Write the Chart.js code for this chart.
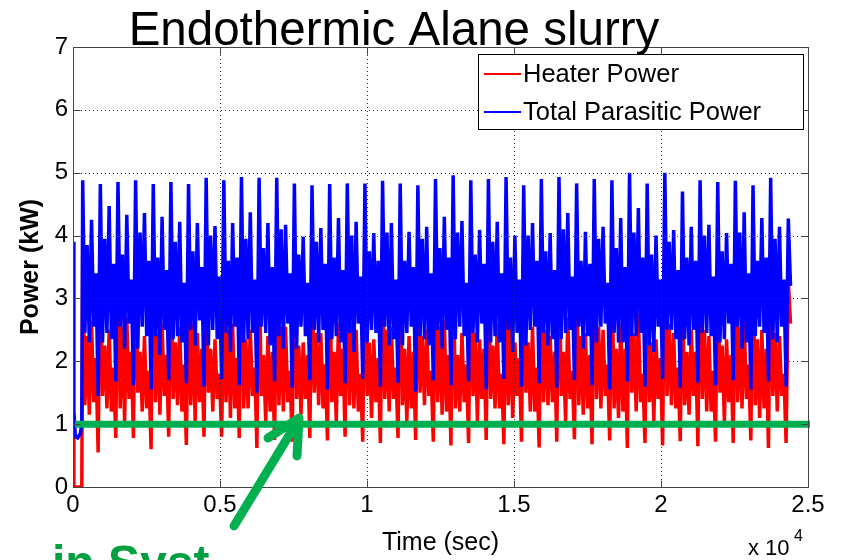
<!DOCTYPE html>
<html>
<head>
<meta charset="utf-8">
<script src="https://cdn.jsdelivr.net/npm/chart.js@4.4.0/dist/chart.umd.min.js"></script>
<style>
  html, body { margin: 0; padding: 0; background: #fff; }
</style>
</head>
<body>
<canvas id="myChart" width="842" height="560"></canvas>
<script>
// axis ticks (x in units of 10^4 sec)
const xTicks = [0, 0.5, 1, 1.5, 2, 2.5];
const yTicks = [0, 1, 2, 3, 4, 5, 6, 7];

// start-up transient, irregular sample times (sec)
const startTime = [0, 30, 80, 160, 250, 300];
const startHeater = [0.85, 0, 0, 0, 0, 0];
const startTotal = [3.9, 1.2, 0.8, 0.78, 0.85, 1.0];

// cycling part, one sample every 75 s from t = 330 s (8 samples per ~600 s cycle)
const sampleStart = 330;
const sampleStep = 75;

// Heater Power (kW)
const heaterPower = [
  3.98, 1.30, 2.40, 1.15, 2.65, 1.35, 2.05, 0.55,
  3.90, 1.45, 2.25, 1.25, 2.50, 1.20, 1.90, 0.78,
  3.92, 1.25, 2.55, 1.05, 2.70, 1.40, 2.15, 0.78,
  3.85, 1.50, 2.15, 1.20, 2.40, 1.25, 1.85, 0.60,
  3.90, 1.35, 2.45, 1.15, 2.60, 1.45, 2.10, 0.80,
  3.60, 1.40, 2.30, 1.30, 2.55, 1.20, 1.95, 0.67,
  3.25, 1.30, 2.60, 1.05, 2.45, 1.35, 2.20, 0.80,
  3.55, 1.50, 2.20, 1.20, 2.35, 1.40, 1.80, 0.80,
  2.97, 1.35, 2.50, 1.10, 2.60, 1.25, 2.05, 0.78,
  3.98, 1.25, 2.35, 1.25, 2.50, 1.45, 1.90, 0.62,
  3.70, 1.45, 2.10, 1.05, 2.40, 1.20, 2.15, 0.75,
  3.40, 1.30, 2.55, 1.20, 2.55, 1.35, 1.85, 0.72,
  3.80, 1.40, 2.25, 1.15, 2.30, 1.40, 2.10, 0.78,
  3.50, 1.50, 2.45, 1.30, 2.45, 1.25, 1.95, 0.74,
  3.65, 1.35, 2.15, 1.05, 2.60, 1.45, 2.20, 0.80,
  3.75, 1.30, 2.60, 1.25, 2.50, 1.20, 1.80, 0.72,
  3.90, 1.45, 2.30, 1.10, 2.35, 1.35, 2.05, 0.70,
  3.45, 1.40, 2.50, 1.20, 2.55, 1.40, 1.90, 0.78,
  3.70, 1.30, 2.20, 1.05, 2.40, 1.25, 2.15, 0.75,
  3.85, 1.50, 2.40, 1.30, 2.50, 1.45, 1.85, 0.72,
  3.60, 1.35, 2.55, 1.15, 2.65, 1.20, 2.10, 0.66,
  3.95, 1.25, 2.10, 1.20, 2.45, 1.35, 1.95, 0.70,
  3.55, 1.45, 2.45, 1.05, 2.35, 1.40, 2.20, 0.75,
  3.80, 1.40, 2.25, 1.25, 2.60, 1.25, 1.80, 0.68,
  3.40, 1.30, 2.60, 1.10, 2.30, 1.45, 2.05, 0.72,
  3.75, 1.50, 2.30, 1.20, 2.55, 1.20, 1.90, 0.63,
  3.65, 1.35, 2.50, 1.30, 2.40, 1.35, 2.15, 0.72,
  3.90, 1.45, 2.15, 1.05, 2.70, 1.40, 1.85, 0.76,
  3.50, 1.30, 2.40, 1.15, 2.45, 1.25, 2.10, 0.68,
  3.85, 1.40, 2.55, 1.25, 2.50, 1.45, 1.95, 0.74,
  3.70, 1.25, 2.20, 1.10, 2.60, 1.20, 2.20, 0.62,
  3.95, 1.50, 2.45, 1.20, 2.75, 1.35, 1.80, 0.70,
  3.35, 1.35, 2.30, 1.05, 2.35, 1.40, 2.05, 0.66,
  4.00, 1.45, 2.60, 1.30, 2.45, 1.25, 1.90, 0.73,
  3.30, 1.30, 2.15, 1.15, 2.50, 1.45, 2.15, 0.65,
  3.80, 1.40, 2.50, 1.20, 2.40, 1.20, 1.85, 0.72,
  3.60, 1.50, 2.25, 1.05, 2.35, 1.35, 2.10, 0.70,
  3.75, 1.35, 2.55, 1.25, 2.65, 1.40, 1.95, 0.74,
  3.55, 1.30, 2.35, 1.10, 2.50, 1.25, 2.20, 0.62,
  3.85, 1.45, 2.45, 1.20, 2.40, 1.45, 1.80, 0.70,
  3.30, 2.60
];

// Total Parasitic Power (kW)
const totalPower = [
  4.88, 2.45, 3.85, 2.30, 4.25, 2.55, 3.40, 1.45,
  4.82, 2.30, 3.95, 2.45, 4.47, 2.35, 3.55, 1.68,
  4.85, 2.55, 3.70, 2.20, 4.33, 2.60, 3.30, 1.62,
  4.88, 2.20, 4.05, 2.55, 4.36, 2.40, 3.60, 1.55,
  4.82, 2.40, 3.65, 2.10, 4.30, 2.50, 3.45, 1.70,
  4.85, 2.35, 3.90, 2.40, 4.22, 2.30, 3.25, 1.65,
  4.82, 2.50, 3.75, 2.25, 4.20, 2.65, 3.50, 1.60,
  4.92, 2.25, 4.00, 2.50, 4.15, 2.35, 3.35, 1.72,
  4.88, 2.45, 3.60, 2.15, 4.20, 2.55, 3.65, 1.62,
  4.93, 2.30, 3.95, 2.35, 4.37, 2.45, 3.30, 1.50,
  4.92, 2.55, 3.80, 2.45, 4.20, 2.25, 3.50, 1.68,
  4.92, 2.40, 4.10, 2.20, 4.17, 2.60, 3.40, 1.58,
  4.83, 2.20, 3.70, 2.55, 3.98, 2.40, 3.25, 1.70,
  4.80, 2.50, 3.90, 2.30, 4.12, 2.50, 3.55, 1.55,
  4.82, 2.35, 3.65, 2.40, 4.28, 2.30, 3.45, 1.65,
  4.83, 2.45, 4.00, 2.15, 4.22, 2.60, 3.35, 1.72,
  4.83, 2.30, 3.75, 2.50, 4.04, 2.45, 3.60, 1.60,
  4.87, 2.55, 4.05, 2.25, 4.20, 2.35, 3.30, 1.66,
  4.83, 2.25, 3.60, 2.45, 4.06, 2.55, 3.50, 1.52,
  4.80, 2.40, 3.95, 2.35, 4.14, 2.25, 3.40, 1.70,
  4.90, 2.50, 3.80, 2.20, 4.30, 2.50, 3.65, 1.62,
  4.96, 2.35, 4.05, 2.55, 4.23, 2.40, 3.25, 1.68,
  4.88, 2.45, 3.70, 2.30, 4.09, 2.60, 3.55, 1.55,
  4.90, 2.30, 3.90, 2.40, 4.22, 2.30, 3.40, 1.72,
  4.93, 2.50, 3.65, 2.15, 4.00, 2.45, 3.30, 1.60,
  4.80, 2.25, 4.00, 2.50, 4.20, 2.55, 3.60, 1.65,
  4.90, 2.45, 3.75, 2.25, 4.04, 2.35, 3.45, 1.58,
  4.93, 2.35, 4.10, 2.45, 4.36, 2.50, 3.35, 1.70,
  4.83, 2.55, 3.60, 2.20, 4.06, 2.40, 3.55, 1.62,
  4.90, 2.30, 3.95, 2.55, 4.14, 2.60, 3.25, 1.55,
  4.88, 2.45, 3.80, 2.30, 4.28, 2.30, 3.50, 1.68,
  5.00, 2.40, 4.05, 2.40, 4.44, 2.45, 3.65, 1.60,
  4.83, 2.25, 3.70, 2.15, 4.00, 2.55, 3.30, 1.72,
  5.00, 2.50, 3.90, 2.50, 4.09, 2.35, 3.45, 1.58,
  4.70, 2.35, 3.65, 2.25, 4.14, 2.50, 3.60, 1.66,
  4.88, 2.45, 4.00, 2.45, 4.17, 2.40, 3.35, 1.62,
  4.85, 2.30, 3.75, 2.35, 4.04, 2.60, 3.55, 1.70,
  4.87, 2.55, 4.05, 2.20, 4.37, 2.30, 3.40, 1.55,
  4.80, 2.40, 3.60, 2.55, 4.28, 2.45, 3.65, 1.68,
  4.92, 2.35, 3.95, 2.30, 4.14, 2.55, 3.30, 1.60,
  4.27, 3.20
];

const targetLine = 1; // kW, green reference line

const FONT = "'Liberation Sans', Arial, Helvetica, sans-serif";
const GREEN = "#00b050";

const times = startTime.concat(heaterPower.map((_, i) => sampleStart + i * sampleStep));
const toPoints = (vals) => vals.map((v, i) => ({ x: times[i], y: v }));

// grid, box, inward ticks, legend and the slide annotations
const matlabAxes = {
  id: "matlabAxes",
  afterDatasetsDraw(chart) {
    const { ctx, chartArea: a, scales: { x, y } } = chart;
    ctx.save();
    // dotted grid sits over the traces
    ctx.strokeStyle = "#333";
    ctx.lineWidth = 1;
    ctx.setLineDash([1, 3]);
    ctx.beginPath();
    xTicks.slice(1, -1).forEach((v) => {
      const px = Math.round(x.getPixelForValue(v * 1e4)) + 0.5;
      ctx.moveTo(px, a.top);
      ctx.lineTo(px, a.bottom);
    });
    yTicks.slice(1, -1).forEach((v) => {
      const py = Math.round(y.getPixelForValue(v)) + 0.5;
      ctx.moveTo(a.left, py);
      ctx.lineTo(a.right, py);
    });
    ctx.stroke();
    ctx.setLineDash([]);

    // 1 kW line
    const gy = y.getPixelForValue(targetLine);
    ctx.strokeStyle = GREEN;
    ctx.lineWidth = 7;
    ctx.beginPath();
    ctx.moveTo(a.left + 2, gy);
    ctx.lineTo(a.right + 2, gy);
    ctx.stroke();

    // box + ticks pointing in
    ctx.strokeStyle = "#444";
    ctx.lineWidth = 1;
    const L = Math.round(a.left) + 0.5, R = Math.round(a.right) + 0.5;
    const T = Math.round(a.top) + 0.5, B = Math.round(a.bottom) + 0.5;
    ctx.strokeRect(L, T, R - L, B - T);
    ctx.beginPath();
    xTicks.forEach((v) => {
      const px = Math.round(x.getPixelForValue(v * 1e4)) + 0.5;
      ctx.moveTo(px, B); ctx.lineTo(px, B - 7);
      ctx.moveTo(px, T); ctx.lineTo(px, T + 7);
    });
    yTicks.forEach((v) => {
      const py = Math.round(y.getPixelForValue(v)) + 0.5;
      ctx.moveTo(L, py); ctx.lineTo(L + 7, py);
      ctx.moveTo(R, py); ctx.lineTo(R - 7, py);
    });
    ctx.stroke();
    ctx.restore();
  },
  afterDraw(chart) {
    const { ctx } = chart;
    ctx.save();

    // title
    ctx.fillStyle = "#000";
    ctx.font = "47.5px " + FONT;
    ctx.textAlign = "center";
    ctx.textBaseline = "alphabetic";
    ctx.fillText("Endothermic Alane slurry", 394, 45);

    // legend
    ctx.fillStyle = "#fff";
    ctx.fillRect(478.5, 54.5, 325, 75);
    ctx.strokeStyle = "#000";
    ctx.lineWidth = 1;
    ctx.strokeRect(478.5, 54.5, 325, 75);
    ctx.font = "25.5px " + FONT;
    ctx.textAlign = "left";
    ctx.textBaseline = "middle";
    const rows = [74, 112];
    chart.data.datasets.forEach((ds, i) => {
      ctx.strokeStyle = ds.borderColor;
      ctx.lineWidth = 2;
      ctx.beginPath();
      ctx.moveTo(484, rows[i]);
      ctx.lineTo(521, rows[i]);
      ctx.stroke();
      ctx.fillStyle = "#000";
      ctx.fillText(ds.label, 523, rows[i] + 1);
    });

    // x 10^4 multiplier
    ctx.textBaseline = "alphabetic";
    ctx.font = "22px " + FONT;
    ctx.fillText("x 10", 748, 555);
    ctx.font = "16px " + FONT;
    ctx.fillText("4", 794, 541);

    // arrow
    ctx.strokeStyle = GREEN;
    ctx.lineWidth = 9;
    ctx.lineCap = "round";
    ctx.lineJoin = "round";
    ctx.beginPath();
    ctx.moveTo(234, 526);
    ctx.lineTo(299, 419);
    ctx.moveTo(268, 438);
    ctx.lineTo(299, 418);
    ctx.lineTo(297, 456);
    ctx.stroke();

    // slide text cut by the bottom edge
    ctx.fillStyle = "#00a040";
    ctx.font = "bold 48px " + FONT;
    ctx.fillText("in Syst", 52, 579);
    ctx.restore();
  },
};

const ctx = document.getElementById("myChart").getContext("2d");
const myChart = new Chart(ctx, {
  type: "line",
  data: {
    datasets: [
      {
        label: "Heater Power",
        data: toPoints(startHeater.concat(heaterPower)),
        borderColor: "#ff0000",
        borderWidth: 3.5,
        order: 1,
      },
      {
        label: "Total Parasitic Power",
        data: toPoints(startTotal.concat(totalPower)),
        borderColor: "#0000ff",
        borderWidth: 3.5,
        order: 0,
      },
    ],
  },
  options: {
    responsive: false,
    animation: false,
    devicePixelRatio: 1,
    layout: { padding: { left: 0, right: 34, top: 47, bottom: 0 } },
    elements: { point: { radius: 0 }, line: { tension: 0 } },
    plugins: { legend: { display: false }, tooltip: { enabled: false } },
    scales: {
      x: {
        type: "linear",
        min: 0,
        max: 25000,
        afterBuildTicks: (scale) => {
          scale.ticks = xTicks.map((v) => ({ value: v * 1e4 }));
        },
        afterFit: (scale) => { scale.height = 73; },
        grid: { display: false, drawTicks: false },
        border: { display: false },
        ticks: {
          autoSkip: false,
          maxRotation: 0,
          padding: 4,
          color: "#000",
          font: { family: FONT, size: 24 },
          callback: (v) => String(v / 1e4),
        },
        title: {
          display: true,
          text: "Time (sec)",
          color: "#000",
          font: { family: FONT, size: 25 },
          padding: { top: 0, bottom: 2 },
        },
      },
      y: {
        min: 0,
        max: 7,
        afterBuildTicks: (scale) => {
          scale.ticks = yTicks.map((v) => ({ value: v }));
        },
        afterFit: (scale) => { scale.width = 73; },
        grid: { display: false, drawTicks: false },
        border: { display: false },
        ticks: {
          padding: 5,
          color: "#000",
          font: { family: FONT, size: 24 },
        },
        title: {
          display: true,
          text: "Power (kW)",
          color: "#000",
          font: { family: FONT, size: 25, weight: "bold" },
          padding: { top: 16, bottom: 0 },
        },
      },
    },
  },
  plugins: [matlabAxes],
});
</script>
</body>
</html>
